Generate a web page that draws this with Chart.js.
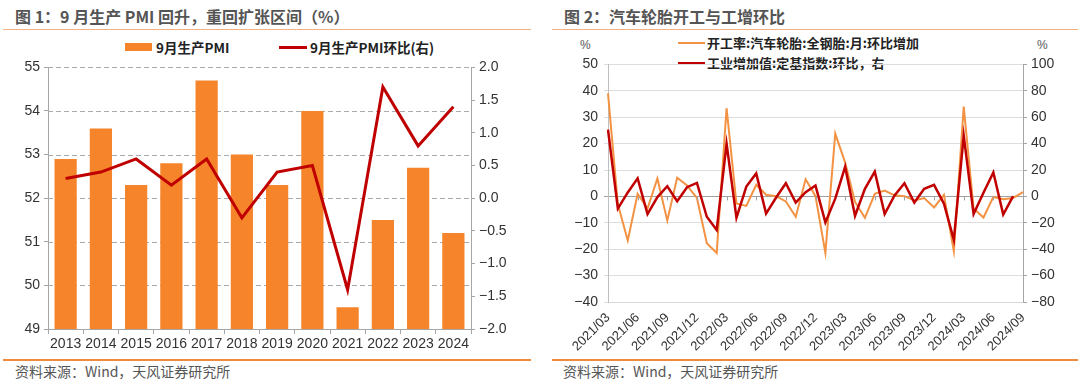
<!DOCTYPE html>
<html>
<head>
<meta charset="utf-8">
<script src="https://cdn.jsdelivr.net/npm/chart.js@4/dist/chart.umd.min.js"></script>
<style>
  body { margin: 0; width: 1080px; height: 386px; background: #fff; position: relative; overflow: hidden;
         font-family: "Liberation Sans", "Noto Sans CJK SC", sans-serif; }
  .abs { position: absolute; white-space: nowrap; }
  .title { font-size: 16px; font-weight: bold; color: #555; font-family: "Noto Sans CJK SC", sans-serif; }
  .rule { position: absolute; height: 1px; background: #F4B183; }
  .rule2 { position: absolute; height: 1.5px; background: #ED8B3E; }
  .src { font-size: 14px; color: #555; font-family: "Noto Sans CJK SC", sans-serif; }
  .leg { font-size: 13.5px; font-weight: bold; color: #222; font-family: "Noto Sans CJK SC", sans-serif; }
  .unit { font-size: 12px; color: #555; }
  canvas { position: absolute; }
</style>
</head>
<body>
<!-- 左图 ----------- -->
<div class="abs title" style="left:15px;top:4px;">图 1：9 月生产 PMI 回升，重回扩张区间（%）</div>
<div class="rule" style="left:3px;top:29px;width:528px;"></div>
<div class="abs" style="left:125px;top:43px;width:27px;height:8px;background:#F5842A;"></div>
<div class="abs leg" style="left:156px;top:37px;">9月生产PMI</div>
<div class="abs" style="left:279px;top:46px;width:28px;height:2.5px;background:#C00000;"></div>
<div class="abs leg" style="left:310px;top:37px;">9月生产PMI环比(右)</div>
<div class="rule2" style="left:3px;top:359px;width:528px;"></div>
<div class="abs src" style="left:15px;top:361px;">资料来源：Wind，天风证券研究所</div>
<canvas id="pmi-chart" style="left:0;top:55px;" width="540" height="300"></canvas>

<!-- 右图 ----------- -->
<div class="abs title" style="left:564px;top:4px;">图 2：汽车轮胎开工与工增环比</div>
<div class="rule" style="left:552px;top:29px;width:526px;"></div>
<div class="abs unit" style="left:580px;top:38px;">%</div>
<div class="abs unit" style="left:1037px;top:38px;">%</div>
<div class="abs" style="left:678px;top:42px;width:27px;height:2px;background:#F39243;"></div>
<div class="abs leg" style="left:707px;top:33px;font-size:13px;">开工率:汽车轮胎:全钢胎:月:环比增加</div>
<div class="abs" style="left:678px;top:62px;width:27px;height:2.5px;background:#C00000;"></div>
<div class="abs leg" style="left:707px;top:53px;font-size:13px;">工业增加值:定基指数:环比，右</div>
<div class="rule2" style="left:552px;top:359px;width:526px;"></div>
<div class="abs src" style="left:563px;top:361px;">资料来源：Wind，天风证券研究所</div>
<canvas id="tire-chart" style="left:540px;top:50px;" width="540" height="305"></canvas>

<script>
// データ ---------------
const pmiYears = ["2013", "2014", "2015", "2016", "2017", "2018", "2019", "2020", "2021", "2022", "2023", "2024"];
const pmiValues = [52.9, 53.6, 52.3, 52.8, 54.7, 53.0, 52.3, 54.0, 49.5, 51.5, 52.7, 51.2];
const pmiMoM = [0.3, 0.4, 0.6, 0.2, 0.6, -0.3, 0.4, 0.5, -1.4, 1.7, 0.8, 1.4];

const months = [
  "2021/03", "2021/04", "2021/05", "2021/06", "2021/07", "2021/08", "2021/09", "2021/10", "2021/11", "2021/12",
  "2022/01", "2022/02", "2022/03", "2022/04", "2022/05", "2022/06", "2022/07", "2022/08", "2022/09", "2022/10",
  "2022/11", "2022/12", "2023/01", "2023/02", "2023/03", "2023/04", "2023/05", "2023/06", "2023/07", "2023/08",
  "2023/09", "2023/10", "2023/11", "2023/12", "2024/01", "2024/02", "2024/03", "2024/04", "2024/05", "2024/06",
  "2024/07", "2024/08", "2024/09"
];
// 开工率:汽车轮胎:全钢胎:月:环比增加（左轴）
const tireRate = [
  39, -3, -16.7, 1.0, -4.6, 6.8, -9.2, 7.1, 4.1, -0.6,
  -17.7, -21.4, 33.4, -2.7, -3.6, 4.4, 0.6, 0.1, -1.9, -7.7,
  6.5, 0.1, -21.4, 23.8, 12.8, -2.1, -8.1, 1.0, 2.2, 0.4,
  0.1, -1.5, -0.6, -4.2, 0.6, -20.8, 34.0, -4.6, -8.0, -0.2,
  -1.1, -0.6, 1.6
];
// 工业增加值:定基指数:环比（右轴）
const ipMoM = [
  50.6, -9.2, 3.0, 13.7, -13.4, -0.5, 7.7, -3.7, 7.0, 10.2,
  -15.4, -25.4, 40, -16.2, 7.5, 17.4, -13, -1, 10, -4.7,
  3.2, 8.2, -19.7, -1.7, 22.4, -14.7, 5.7, 18.7, -13.4, 0.7,
  10, -4.7, 5.7, 8.7, -5.5, -32.9, 46, -13.4, 2.7, 18.2,
  -13.7, 0.2
];

const tickFont = { family: "'Liberation Sans', 'Noto Sans CJK SC', sans-serif", size: 14 };
const minus = v => String(v).replace("-", "\u2212");

// 左图的虚线网格（按 y 轴刻度画）
const dashedGrid = {
  id: "dashedGrid",
  beforeDatasetsDraw(chart) {
    const { ctx, chartArea } = chart;
    const y = chart.scales.y;
    ctx.save();
    ctx.strokeStyle = "#ABABAB";
    ctx.lineWidth = 1;
    ctx.setLineDash([5, 3]);
    y.ticks.forEach(t => {
      const py = Math.round(y.getPixelForValue(t.value)) + 0.5;
      if (py > chartArea.bottom - 1) return;
      ctx.beginPath();
      ctx.moveTo(chartArea.left, py);
      ctx.lineTo(chartArea.right, py);
      ctx.stroke();
    });
    ctx.restore();
  }
};

// 零轴上的小刻度（右图）
const zeroTicks = {
  id: "zeroTicks",
  afterDatasetsDraw(chart) {
    const x = chart.scales.x, y = chart.scales.y;
    const y0 = y.getPixelForValue(0);
    const ctx = chart.ctx;
    ctx.save();
    ctx.strokeStyle = "#A0A0A0";
    ctx.lineWidth = 1;
    for (let i = 3; i < months.length; i += 3) {
      const px = Math.round(x.getPixelForValue(i)) + 0.5;
      ctx.beginPath();
      ctx.moveTo(px, y0);
      ctx.lineTo(px, y0 + 4);
      ctx.stroke();
    }
    ctx.restore();
  }
};

// 左图 ---------------
new Chart(document.getElementById("pmi-chart").getContext("2d"), {
  type: "bar",
  data: {
    labels: pmiYears,
    datasets: [
      { type: "line", label: "9月生产PMI环比(右)", data: pmiMoM, yAxisID: "y1",
        borderColor: "#C00000", borderWidth: 3, pointRadius: 0, tension: 0, order: 0 },
      { type: "bar", label: "9月生产PMI", data: pmiValues, yAxisID: "y",
        backgroundColor: "#F5842A", barPercentage: 0.63, categoryPercentage: 1, order: 1 }
    ]
  },
  options: {
    responsive: false,
    animation: false,
    layout: { padding: { top: 10, right: 0, left: 0, bottom: 0 } },
    plugins: { legend: { display: false }, tooltip: { enabled: false } },
    scales: {
      x: {
        grid: { offset: true, drawOnChartArea: false, tickLength: 5, color: "#A6A6A6" },
        border: { color: "#A6A6A6" },
        ticks: { font: tickFont, color: "#333", padding: 2, maxRotation: 0 },
        afterFit(scale) { scale.height = 26; }
      },
      y: {
        position: "left", min: 49, max: 55,
        ticks: { stepSize: 1, font: tickFont, color: "#333", padding: 4 },
        grid: { drawOnChartArea: false, color: "#A6A6A6", tickLength: 4 },
        border: { color: "#A6A6A6" },
        afterFit(scale) { scale.width = 48; }
      },
      y1: {
        position: "right", min: -2, max: 2,
        ticks: { stepSize: 0.5, font: tickFont, color: "#333", padding: 4,
                 callback: v => minus(v.toFixed(1)) },
        grid: { drawOnChartArea: false, tickLength: 4, color: "#A6A6A6" },
        border: { color: "#A6A6A6" },
        afterFit(scale) { scale.width = 69; }
      }
    }
  },
  plugins: [dashedGrid]
});

// 右图 ---------------
new Chart(document.getElementById("tire-chart").getContext("2d"), {
  type: "line",
  data: {
    labels: months,
    datasets: [
      { label: "工业增加值:定基指数:环比，右", data: ipMoM, yAxisID: "y1",
        borderColor: "#C00000", borderWidth: 2.5, pointRadius: 0, tension: 0 },
      { label: "开工率:汽车轮胎:全钢胎:月:环比增加", data: tireRate, yAxisID: "y",
        borderColor: "#F39243", borderWidth: 2, pointRadius: 0, tension: 0 }
    ]
  },
  options: {
    responsive: false,
    animation: false,
    layout: { padding: { top: 10, right: 0, left: 0, bottom: 0 } },
    plugins: { legend: { display: false }, tooltip: { enabled: false } },
    scales: {
      x: {
        offset: false,
        grid: { display: false },
        border: { color: "#D9D9D9" },
        ticks: {
          autoSkip: false, maxRotation: 45, minRotation: 45, padding: 0,
          font: { family: "'Liberation Sans', sans-serif", size: 13 }, color: "#333",
          callback: (v, i) => (i % 3 === 0 ? months[i] : "")
        },
        afterFit(scale) { scale.height = 53; }
      },
      y: {
        position: "left", min: -40, max: 50,
        ticks: { stepSize: 10, font: tickFont, color: "#333", padding: 6, callback: v => minus(v) },
        grid: { color: ctx => (ctx.tick && ctx.tick.value === 0 ? "#A0A0A0" : "#DDDDDD"), tickLength: 4 },
        border: { color: "#BFBFBF" },
        afterFit(scale) { scale.width = 68; }
      },
      y1: {
        position: "right", min: -80, max: 100,
        ticks: { stepSize: 20, font: tickFont, color: "#333", padding: 4, callback: v => minus(v) },
        grid: { drawOnChartArea: false, tickLength: 4, color: "#A6A6A6" },
        border: { color: "#A6A6A6" },
        afterFit(scale) { scale.width = 57; }
      }
    }
  },
  plugins: [zeroTicks]
});
</script>
</body>
</html>
